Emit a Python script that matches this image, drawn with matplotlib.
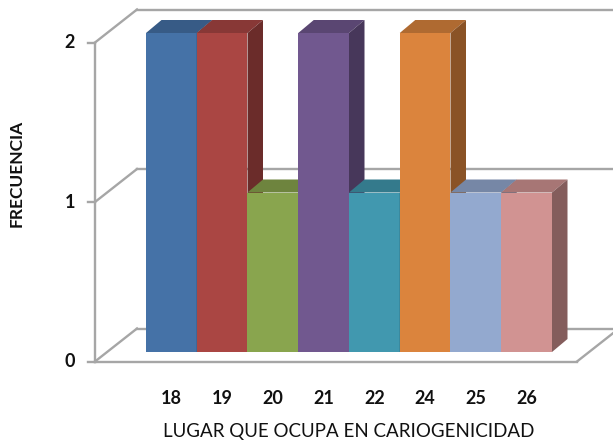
import matplotlib.pyplot as plt
from matplotlib.patches import Polygon
import numpy as np

categories = ['18', '19', '20', '21', '22', '24', '25', '26']
frecuencia = [2, 2, 1, 2, 1, 2, 1, 1]
colors = ['#4572A7', '#AA4643', '#89A54E', '#71588F',
          '#4198AF', '#DB843D', '#93A9CF', '#D19392']
yticks = [0, 1, 2]

W, H = 613, 445
PX = 50.75   # pixels per category
PY = 159.5   # pixels per unit of frequency

fig = plt.figure(figsize=(W / 100, H / 100), dpi=100)
ax = fig.add_axes([0, 0, 1, 1])
ax.set_xlim(-0.5 - 146 / PX, 7.5 + (W - 552) / PX)
ax.set_ylim(-(H - 352) / PY, 2 + 33 / PY)
ax.axis('off')


def shift(x, y, dx, dy):
    # oblique offset given in screen pixels (dy positive = downwards)
    return x + dx / PX, y - dy / PY


front = (-12, 9.5)     # front plane of the walls
back = (30, -23.5)     # back plane of the walls
depth = (15.5, -13)    # depth of each column

grid_c = '#A6A6A6'
lw = 1.7
txt_c = '#111111'
xa = -0.5 - 39 / PX    # left axis
xr = 7.5 + 37 / PX     # right end of the floor
xfar = 12

# left axis, ticks, side wall diagonals and back wall grid
p0 = shift(xa, 0, *front)
p2 = shift(xa, max(yticks), *front)
ax.plot([p0[0], p2[0]], [p0[1], p2[1]], color=grid_c, lw=lw, zorder=1)
for v in yticks:
    f = shift(xa, v, *front)
    b = shift(xa, v, *back)
    ax.plot([f[0] - 7 / PX, f[0]], [f[1], f[1]], color=grid_c, lw=lw, zorder=1)
    ax.plot([f[0], b[0]], [f[1], b[1]], color=grid_c, lw=lw, zorder=1)
    ax.plot([b[0], xfar], [b[1], b[1]], color=grid_c, lw=lw, zorder=1)
    ax.text(f[0] - 20 / PX, f[1], str(v), ha='right', va='center',
            fontsize=13, fontweight='bold', family='Lato', color=txt_c)

# floor
f = shift(xr, 0, *front)
b = shift(xr, 0, *back)
ax.plot([p0[0], f[0]], [p0[1], f[1]], color=grid_c, lw=lw, zorder=1)
ax.plot([f[0], b[0]], [f[1], b[1]], color=grid_c, lw=lw, zorder=1)


def darker(c, k):
    rgb = np.array([int(c[i:i + 2], 16) for i in (1, 3, 5)]) / 255
    return tuple(rgb * k)


x = np.arange(len(categories))
for i, (xi, h, c) in enumerate(zip(x, frecuencia, colors)):
    z = 2 + i
    ax.bar(xi, h, width=1.0, color=c, linewidth=0, zorder=z)
    l, r = xi - 0.5, xi + 0.5
    top = [(l, h), (r, h), shift(r, h, *depth), shift(l, h, *depth)]
    side = [(r, 0), (r, h), shift(r, h, *depth), shift(r, 0, *depth)]
    ax.add_patch(Polygon(top, closed=True, color=darker(c, 0.8), lw=0, zorder=z))
    ax.add_patch(Polygon(side, closed=True, color=darker(c, 0.63), lw=0, zorder=z))
    ax.text(xi, -(399 - 352) / PY, categories[i], ha='center', va='center',
            fontsize=13, fontweight='bold', family='Lato', color=txt_c)

ax.text(-0.5 + (349 - 146) / PX, -(431 - 352) / PY,
        'LUGAR QUE OCUPA EN CARIOGENICIDAD', ha='center', va='center',
        fontsize=13.5, family='Lato', color=txt_c)
ax.text(-0.5 + (17 - 146) / PX, (352 - 173) / PY, 'FRECUENCIA',
        ha='center', va='center', rotation=90, fontsize=12.5,
        fontweight='bold', family='Lato', color=txt_c)

fig.savefig('out.png', dpi=100)
